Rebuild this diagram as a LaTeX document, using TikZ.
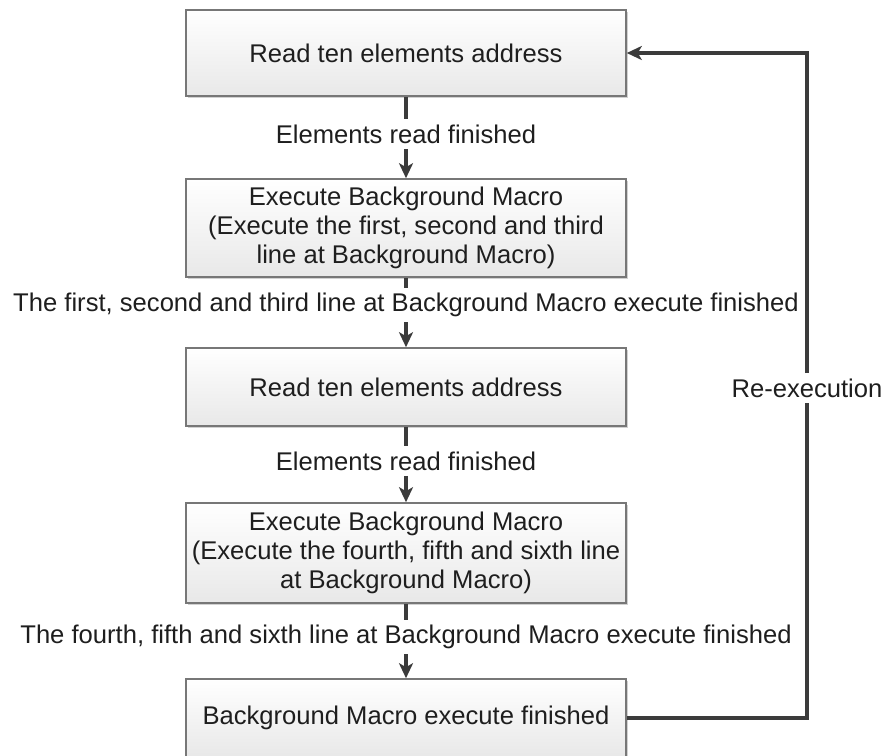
\documentclass[tikz,border=0pt]{standalone}
\usepackage{fontspec}
\setmainfont{Liberation Sans}
\usetikzlibrary{arrows.meta,shadows}
\definecolor{boxline}{HTML}{777777}
\definecolor{wire}{HTML}{3B3B3B}
\definecolor{ink}{HTML}{1E1E1E}
\begin{document}
\begin{tikzpicture}[x=0.5pt,y=-0.5pt,
  every node/.style={font=\fontsize{12.8}{14.5}\selectfont, text=ink},
  stepbox/.style={draw=boxline, line width=0.8pt, top color=white, bottom color=black!9,
    minimum width=220pt, align=center, inner sep=2pt,
    drop shadow={shadow xshift=0.8pt, shadow yshift=-0.8pt, opacity=0.18, fill=black}},
  flowlabel/.style={inner sep=2.5pt},
  flow/.style={draw=wire, line width=1.6pt},
  tip/.style={-{Stealth[length=7.5pt,width=7pt,inset=2pt]}}
]
\useasboundingbox (0,0) rectangle (885,756);

% process steps
\node[stepbox, minimum height=43pt] (b1) at (406,53) {Read ten elements address};
\node[stepbox, minimum height=49pt] (b2) at (406,228)
  {Execute Background Macro\\(Execute the first, second and third\\line at Background Macro)};
\node[stepbox, minimum height=39pt] (b3) at (406,387) {Read ten elements address};
\node[stepbox, minimum height=50pt] (b4) at (406,553)
  {Execute Background Macro\\(Execute the fourth, fifth and sixth line\\at Background Macro)};
\node[stepbox, minimum height=39pt] (b5) at (406,718) {Background Macro execute finished};

% transition conditions
\node[flowlabel] (l1) at (406,134) {Elements read finished};
\node[flowlabel] (l2) at (406,305) {The first, second and third line at Background Macro execute finished};
\node[flowlabel] (l3) at (406,461) {Elements read finished};
\node[flowlabel] (l4) at (406,637) {The fourth, fifth and sixth line at Background Macro execute finished};
\node[flowlabel] (re) at (807,388) {Re-execution};

% main flow
\draw[flow] (b1) -- (l1);
\draw[flow, tip] (l1) -- (b2);
\draw[flow] (b2) -- (l2);
\draw[flow, tip] (l2) -- (b3);
\draw[flow] (b3) -- (l3);
\draw[flow, tip] (l3) -- (b4);
\draw[flow] (b4) -- (l4);
\draw[flow, tip] (l4) -- (b5);

% loop back to the start
\draw[flow] (b5.east) -| (re);
\draw[flow, tip] (re) |- (b1.east);
\end{tikzpicture}
\end{document}
